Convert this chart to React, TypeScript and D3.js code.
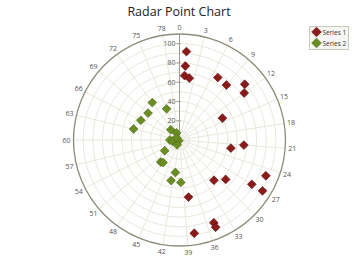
import React from "react";
import * as d3 from "d3";

// Angular axis runs 0..80, radial axis 0..110
const angleTicks = d3.range(0, 80, 3);
const radialTicks = [0, 20, 40, 60, 80, 100];
const seriesNames = ["Series 1", "Series 2"];
const seriesColors = ["#8b1a1a", "#6b8e23"];
const seriesStrokes = ["#5a0d0d", "#4a6418"];

const series1Angle = [1, 1, 1, 2, 7, 9, 11, 12, 14, 21, 22, 31, 29, 25, 27, 27, 38, 35, 35, 38];
const series1Value = [92, 77, 67, 65, 76, 75, 89, 83, 50, 67, 54, 55, 63, 97, 88, 101, 60, 93, 98, 98];

const series2Angle = [72, 75, 69, 66, 63, 71, 75, 60, 58, 50, 46, 52, 49, 48, 41.6, 42.6, 39.6, 68];
const series2Value = [48, 35, 43, 45, 49, 14, 8, 10, 7.5, 1, 5.5, 19, 30, 29, 34, 43, 44, 4];

const W = 358;
const H = 265;
const cx = 179.5;
const cy = 140;
const R = 106;

export default function App() {
  const ang = d3.scaleLinear().domain([0, 80]).range([0, 2 * Math.PI]);
  const rad = d3.scaleLinear().domain([0, 110]).range([0, R]);
  const pt = (a: number, v: number): [number, number] => {
    const t = ang(a);
    const r = rad(v);
    return [cx + r * Math.sin(t), cy - r * Math.cos(t)];
  };
  const diamond = d3.symbol().type(d3.symbolDiamond2).size(50)();
  const legendDiamond = d3.symbol().type(d3.symbolDiamond2).size(60)();
  const gridRings = d3.range(10, 110, 10);

  const data = [
    series1Angle.map((a, i) => [a, series1Value[i]]),
    series2Angle.map((a, i) => [a, series2Value[i]]),
  ];

  return (
    <svg width={W} height={H} style={{ position: "absolute", left: 0, top: 0, background: "#fff" }}
      fontFamily="'Open Sans', sans-serif">
      <text x={179} y={15.5} textAnchor="middle" fontSize={12.5} fill="#222">Radar Point Chart</text>

      {/* grid rings */}
      {gridRings.map((v) => (
        <circle key={v} cx={cx} cy={cy} r={rad(v)} fill="none" stroke="#e8e8dc" strokeWidth={1} />
      ))}
      {/* spokes */}
      {angleTicks.map((a) => {
        const [x, y] = pt(a, 110);
        return <line key={a} x1={cx} y1={cy} x2={x} y2={y} stroke="#e8e8dc" strokeWidth={1} />;
      })}
      {/* outer ring */}
      <circle cx={cx} cy={cy} r={R} fill="none" stroke="#8c8c78" strokeWidth={1.3} />

      {/* radial axis */}
      <line x1={cx} y1={cy} x2={cx} y2={cy - R} stroke="#9a9a90" strokeWidth={1} />
      {radialTicks.map((v) => (
        <g key={v}>
          <line x1={cx - 3} x2={cx + 1} y1={cy - rad(v)} y2={cy - rad(v)} stroke="#9a9a90" />
          {v > 0 && (
            <text x={cx - 4} y={cy - rad(v) + 2.5} textAnchor="end" fontSize={7} fill="#555">{v}</text>
          )}
        </g>
      ))}

      {/* angle labels */}
      {angleTicks.map((a) => {
        const t = ang(a);
        const rr = R + 7;
        const x = cx + rr * Math.sin(t);
        const y = cy - rr * Math.cos(t);
        return (
          <text key={a} x={x} y={y + 2.5} textAnchor="middle" fontSize={7} fill="#555">{a}</text>
        );
      })}

      {/* points */}
      {data.map((s, si) => (
        <g key={si}>
          {s.map(([a, v], i) => {
            const [x, y] = pt(a, v);
            return (
              <path key={i} d={diamond as string} transform={`translate(${x},${y})`}
                fill={seriesColors[si]} stroke={seriesStrokes[si]} strokeWidth={0.6} />
            );
          })}
        </g>
      ))}

      {/* legend */}
      <rect x={309.5} y={26.5} width={39} height={23} fill="#f7f7f2" stroke="#c8c8bc" />
      {seriesNames.map((n, i) => (
        <g key={n}>
          <path d={legendDiamond as string} transform={`translate(316.5,${32 + i * 11})`}
            fill={seriesColors[i]} stroke={seriesStrokes[i]} strokeWidth={0.6} />
          <text x={322.5} y={34.5 + i * 11} fontSize={6.5} fill="#333">{n}</text>
        </g>
      ))}
    </svg>
  );
}
